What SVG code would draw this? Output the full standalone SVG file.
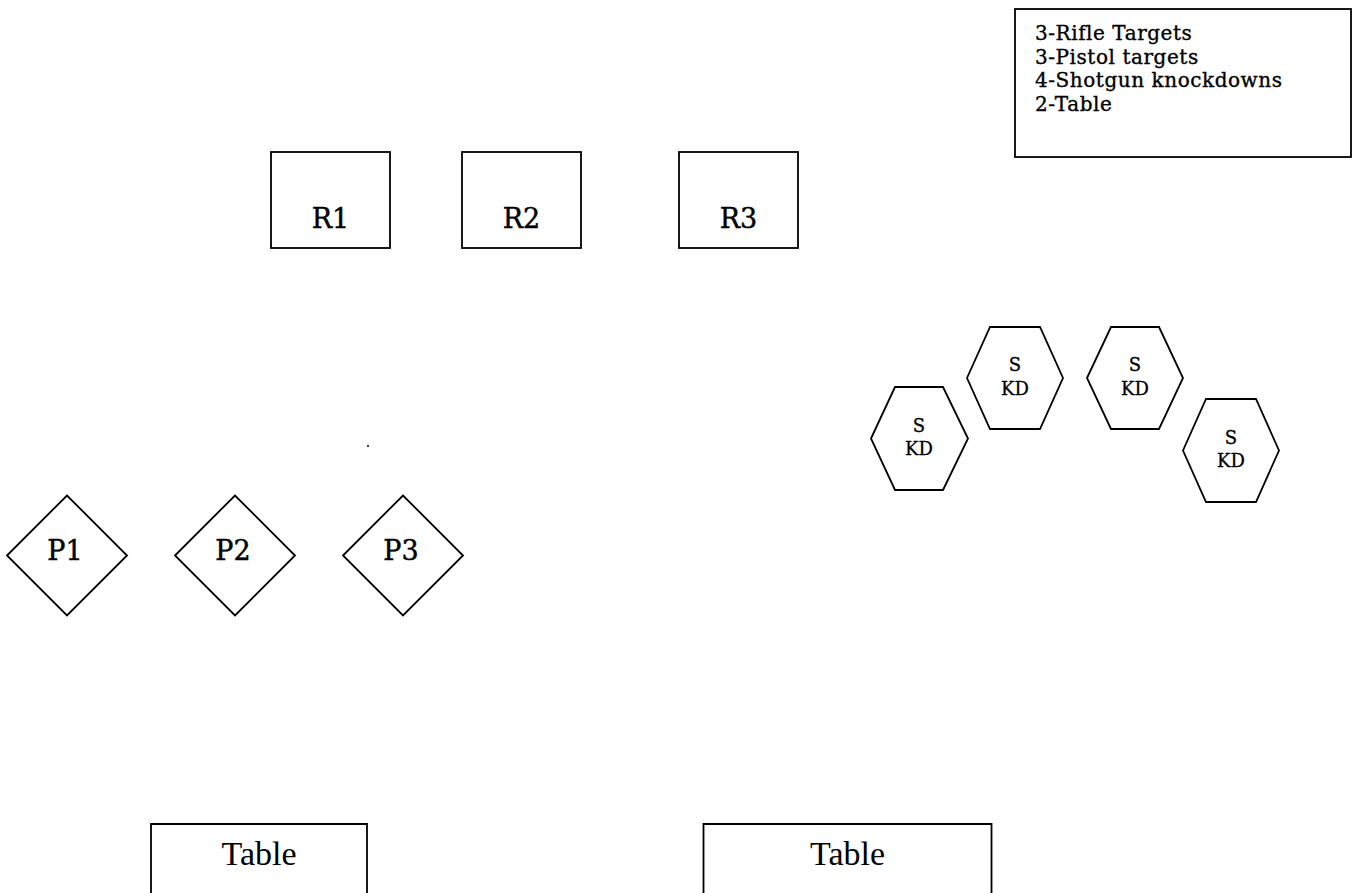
<svg xmlns="http://www.w3.org/2000/svg" width="1358" height="893" viewBox="0 0 1358 893">
<style>
  .shape { fill: #ffffff; stroke: #000000; stroke-width: 1.8; }
  .legend { font-family: "DejaVu Serif", serif; font-size: 20px; letter-spacing: 0.55px; fill: #000; stroke: #000; stroke-width: 0.35; }
  .lbl { font-family: "DejaVu Serif", serif; font-size: 27px; fill: #000; stroke: #000; stroke-width: 0.45; text-anchor: middle; }
  .hexlbl { font-family: "DejaVu Serif", serif; font-size: 18px; fill: #000; stroke: #000; stroke-width: 0.3; text-anchor: middle; }
  .tbl { font-family: "Liberation Serif", "Times New Roman", serif; font-size: 34px; fill: #000; text-anchor: middle; }
</style>
<rect width="1358" height="893" fill="#ffffff"/>

<g id="legend">
  <rect class="shape" x="1015" y="9" width="336" height="148"/>
  <text class="legend" x="1035" y="40">3-Rifle Targets</text>
  <text class="legend" x="1035" y="63.7">3-Pistol targets</text>
  <text class="legend" x="1035" y="87.4">4-Shotgun knockdowns</text>
  <text class="legend" x="1035" y="111">2-Table</text>
</g>

<g id="R1">
  <rect class="shape" x="271" y="152" width="119" height="96"/>
  <text class="lbl" x="330.5" y="228">R1</text>
</g>
<g id="R2">
  <rect class="shape" x="462" y="152" width="119" height="96"/>
  <text class="lbl" x="521.5" y="228">R2</text>
</g>
<g id="R3">
  <rect class="shape" x="679" y="152" width="119" height="96"/>
  <text class="lbl" x="738.5" y="228">R3</text>
</g>

<g id="SKD1">
  <polygon class="shape" points="871,438.5 895,387 943,387 968,438.5 943,490 895,490"/>
  <text class="hexlbl" x="919" y="431.5">S</text>
  <text class="hexlbl" x="919" y="455">KD</text>
</g>
<g id="SKD2">
  <polygon class="shape" points="967,378 990,327 1040,327 1063,378 1040,429 990,429"/>
  <text class="hexlbl" x="1015" y="371">S</text>
  <text class="hexlbl" x="1015" y="394.5">KD</text>
</g>
<g id="SKD3">
  <polygon class="shape" points="1087,378 1111,327 1159,327 1183,378 1159,429 1111,429"/>
  <text class="hexlbl" x="1135" y="371">S</text>
  <text class="hexlbl" x="1135" y="394.5">KD</text>
</g>
<g id="SKD4">
  <polygon class="shape" points="1183,450.5 1206,399 1256,399 1279,450.5 1256,502 1206,502"/>
  <text class="hexlbl" x="1231" y="443.5">S</text>
  <text class="hexlbl" x="1231" y="467">KD</text>
</g>

<g id="dot">
  <circle cx="368" cy="446" r="1" fill="#000"/>
</g>

<g id="P1">
  <polygon class="shape" points="7,555.5 67,495.5 127,555.5 67,615.5"/>
  <text class="lbl" x="65" y="560">P1</text>
</g>
<g id="P2">
  <polygon class="shape" points="175,555.5 235,495.5 295,555.5 235,615.5"/>
  <text class="lbl" x="233" y="560">P2</text>
</g>
<g id="P3">
  <polygon class="shape" points="343,555.5 403,495.5 463,555.5 403,615.5"/>
  <text class="lbl" x="401" y="560">P3</text>
</g>

<g id="table1">
  <polyline class="shape" fill="none" points="151,900 151,824 367,824 367,900"/>
  <text class="tbl" x="259" y="864.5">Table</text>
</g>
<g id="table2">
  <polyline class="shape" fill="none" points="703.5,900 703.5,824 991.5,824 991.5,900"/>
  <text class="tbl" x="847.5" y="864.5">Table</text>
</g>

<g id="connectors"></g>
</svg>
